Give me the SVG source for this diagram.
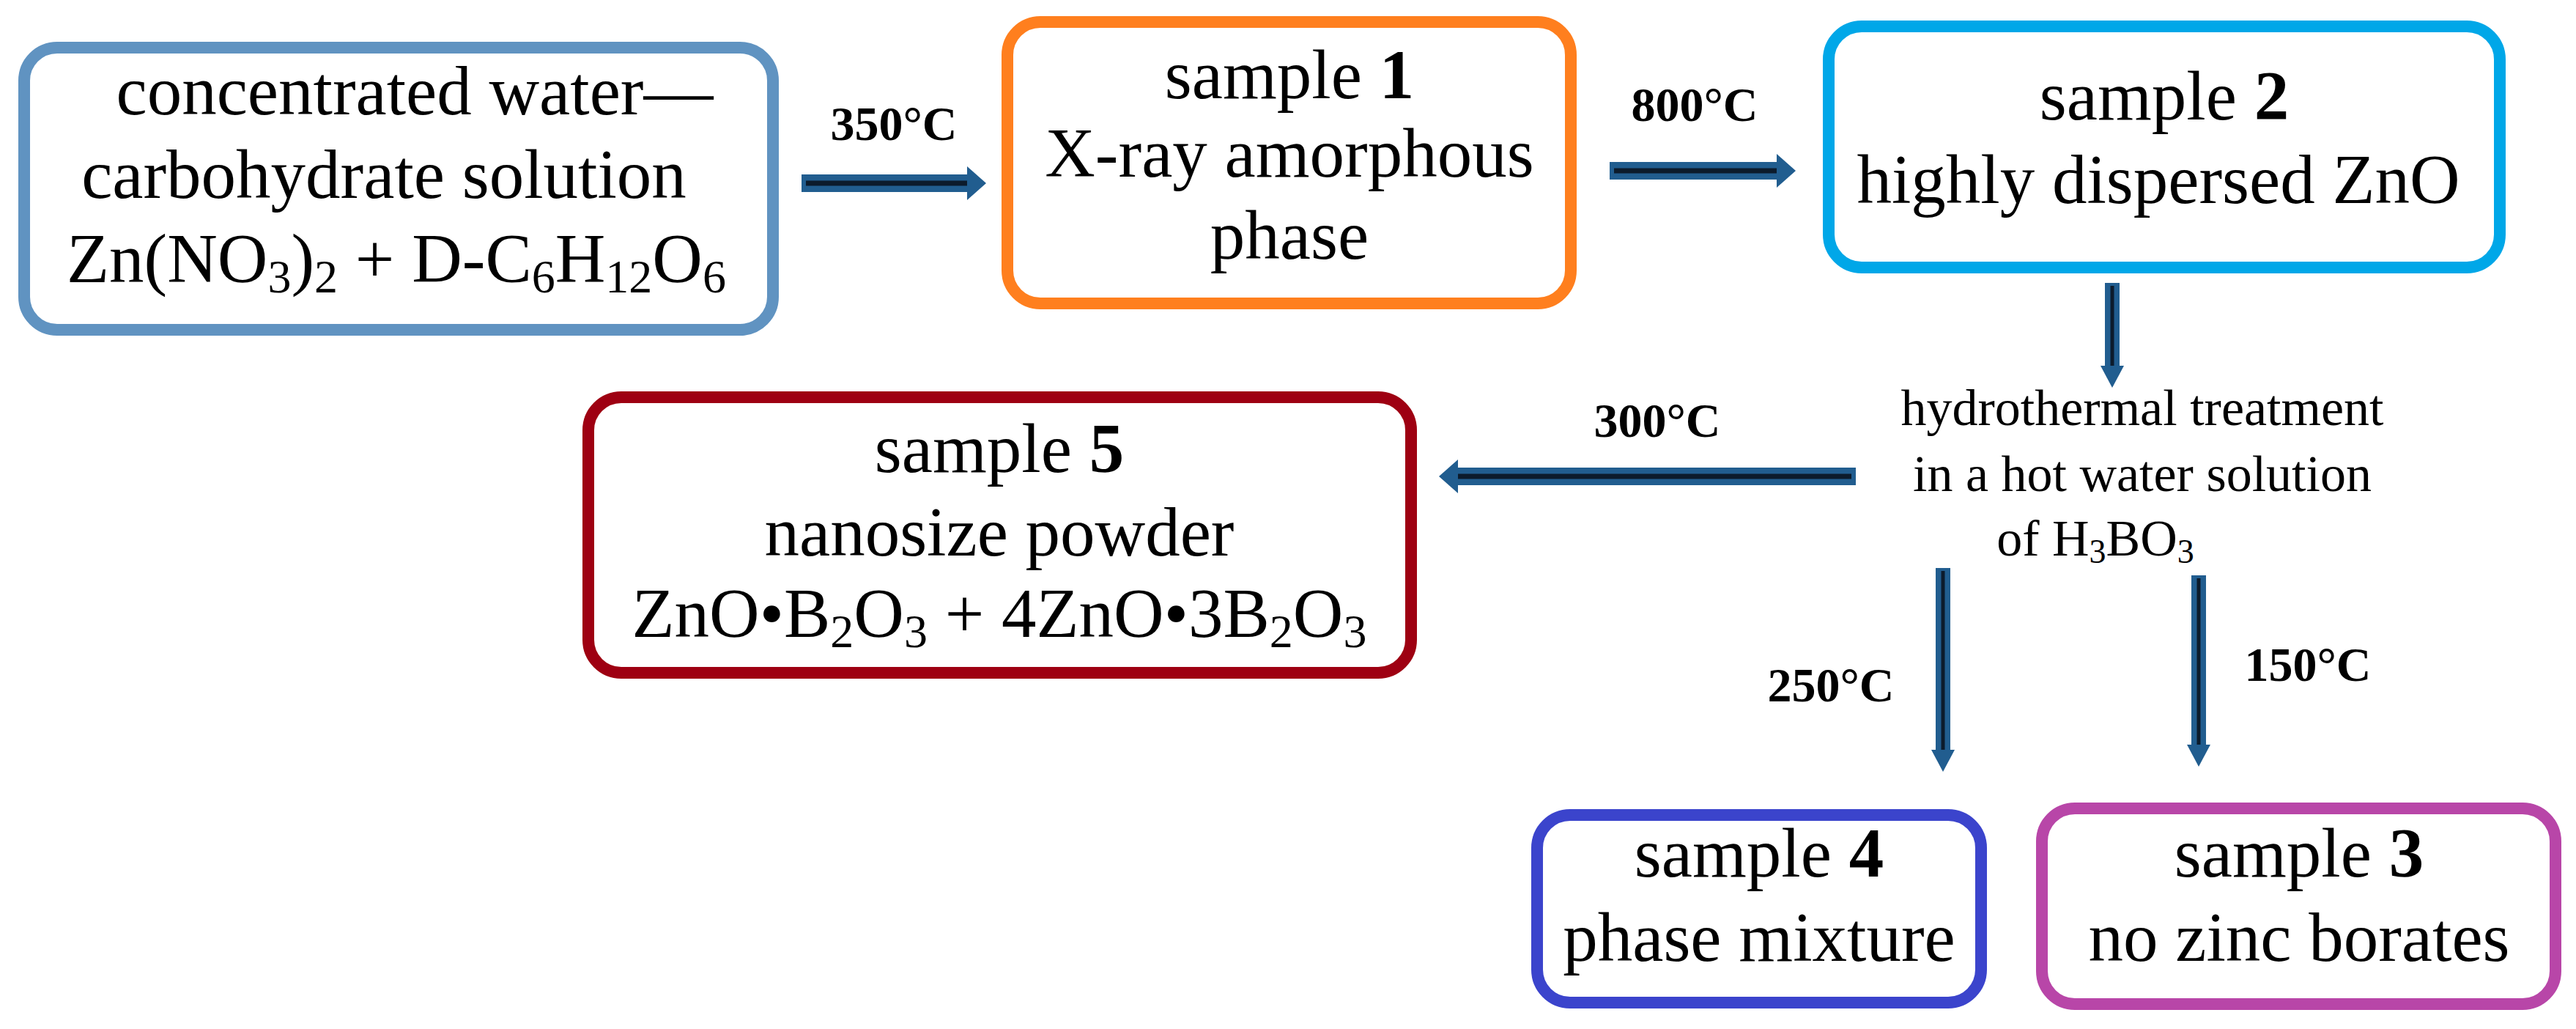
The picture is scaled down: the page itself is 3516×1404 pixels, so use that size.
<svg xmlns="http://www.w3.org/2000/svg" width="3516" height="1404" viewBox="0 0 3516 1404" font-family="'Liberation Serif','Times New Roman','DejaVu Serif',serif">
<style>
text{font-family:"Liberation Serif","Times New Roman","DejaVu Serif",serif}
.box{fill:#fff;stroke-width:16}
.t{font-size:95px;fill:#000;text-anchor:middle}
.s{font-size:70px;fill:#000;text-anchor:middle}
.lab{font-size:66px;font-weight:bold;fill:#000;text-anchor:middle}
.ao{stroke:#215d8f;fill:none}
.ai{stroke:#0c1b2c;fill:none}
</style>
<defs>
<marker id="h" markerUnits="userSpaceOnUse" markerWidth="30" markerHeight="50" refX="2" refY="25" orient="auto" viewBox="0 0 30 50">
<path d="M0,2 L26,25 L0,48 Z" fill="#215d8f"/>
</marker>
<marker id="hs" markerUnits="userSpaceOnUse" markerWidth="40" markerHeight="40" refX="2" refY="20" orient="auto" viewBox="0 0 40 40">
<path d="M0,4 L30,20 L0,36 Z" fill="#215d8f"/>
</marker>
</defs>
<g id="n0">
<rect class="box" x="33" y="65" width="1022" height="385" rx="45" stroke="#6093c1"/>
<text class="t" x="566" y="156" font-family="Liberation Serif, serif">concentrated water—</text>
<text class="t" x="524" y="270" font-family="Liberation Serif, serif">carbohydrate solution</text>
<text class="t" x="541" y="385" font-family="Liberation Serif, serif">Zn(NO<tspan font-size="64" dy="14">3</tspan><tspan dy="-14">)</tspan><tspan font-size="64" dy="14">2</tspan><tspan dy="-14"> + D-C</tspan><tspan font-size="64" dy="14">6</tspan><tspan dy="-14">H</tspan><tspan font-size="64" dy="14">12</tspan><tspan dy="-14">O</tspan><tspan font-size="64" dy="14">6</tspan></text>
</g>
<g id="n1">
<rect class="box" x="1375" y="30" width="769" height="384" rx="45" stroke="#ff7f1e"/>
<text class="t" x="1760" y="134">sample <tspan font-weight="bold">1</tspan></text>
<text class="t" x="1760" y="241">X-ray amorphous</text>
<text class="t" x="1760" y="353">phase</text>
</g>
<g id="n2">
<rect class="box" x="2496" y="36" width="916" height="329" rx="45" stroke="#00a7e8"/>
<text class="t" x="2954" y="163">sample <tspan font-weight="bold">2</tspan></text>
<text class="t" x="2946" y="277">highly dispersed ZnO</text>
</g>
<g id="n5">
<rect class="box" x="803" y="542" width="1123" height="376" rx="45" stroke="#9e0012"/>
<text class="t" x="1364" y="644">sample <tspan font-weight="bold">5</tspan></text>
<text class="t" x="1364" y="758">nanosize powder</text>
<text class="t" x="1364" y="869">ZnO•B<tspan font-size="64" dy="14">2</tspan><tspan dy="-14">O</tspan><tspan font-size="64" dy="14">3</tspan><tspan dy="-14"> + 4ZnO•3B</tspan><tspan font-size="64" dy="14">2</tspan><tspan dy="-14">O</tspan><tspan font-size="64" dy="14">3</tspan></text>
</g>
<g id="n4">
<rect class="box" x="2098" y="1112" width="606" height="256" rx="45" stroke="#3b44cc"/>
<text class="t" x="2401" y="1196">sample <tspan font-weight="bold">4</tspan></text>
<text class="t" x="2401" y="1311">phase mixture</text>
</g>
<g id="n3">
<rect class="box" x="2787" y="1103" width="701" height="267" rx="45" stroke="#b846a8"/>
<text class="t" x="3138" y="1196">sample <tspan font-weight="bold">3</tspan></text>
<text class="t" x="3138" y="1311">no zinc borates</text>
</g>
<g id="nh">
<text class="s" x="2924" y="580">hydrothermal treatment</text>
<text class="s" x="2924" y="670">in a hot water solution</text>
<text class="s" x="2860" y="758">of H<tspan font-size="46" dy="10">3</tspan><tspan dy="-10">BO</tspan><tspan font-size="46" dy="10">3</tspan></text>
</g>
<g id="connectors">
<line class="ao" x1="1094" y1="250" x2="1322" y2="250" stroke-width="24" marker-end="url(#h)"/>
<line class="ai" x1="1100" y1="250" x2="1320" y2="250" stroke-width="7"/>
<line class="ao" x1="2197" y1="233" x2="2427" y2="233" stroke-width="24" marker-end="url(#h)"/>
<line class="ai" x1="2203" y1="233" x2="2425" y2="233" stroke-width="7"/>
<line class="ao" x1="2533" y1="650" x2="1988" y2="650" stroke-width="24" marker-end="url(#h)"/>
<line class="ai" x1="2527" y1="650" x2="1990" y2="650" stroke-width="7"/>
<line class="ao" x1="2883" y1="386" x2="2883" y2="501" stroke-width="20" marker-end="url(#hs)"/>
<line class="ai" x1="2883" y1="390" x2="2883" y2="499" stroke-width="5"/>
<line class="ao" x1="2652" y1="775" x2="2652" y2="1025" stroke-width="20" marker-end="url(#hs)"/>
<line class="ai" x1="2652" y1="779" x2="2652" y2="1023" stroke-width="5"/>
<line class="ao" x1="3001" y1="785" x2="3001" y2="1018" stroke-width="20" marker-end="url(#hs)"/>
<line class="ai" x1="3001" y1="789" x2="3001" y2="1016" stroke-width="5"/>
<text class="lab" x="1220" y="191">350°C</text>
<text class="lab" x="2313" y="165">800°C</text>
<text class="lab" x="2262" y="596">300°C</text>
<text class="lab" x="2499" y="957">250°C</text>
<text class="lab" x="3150" y="929">150°C</text>
</g>
</svg>
